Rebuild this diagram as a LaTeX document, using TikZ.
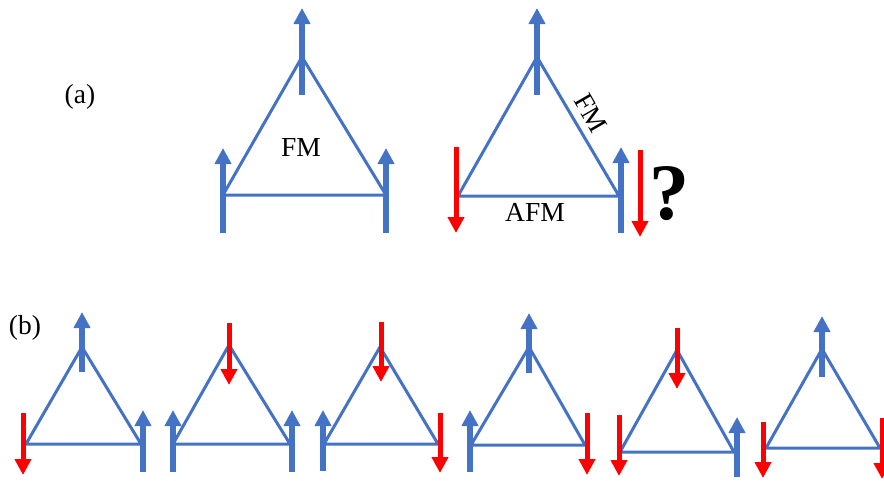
\documentclass[tikz,border=0pt]{standalone}
\usepackage{fontspec}
\setmainfont{Liberation Serif}
\usetikzlibrary{arrows.meta}
\definecolor{sblue}{HTML}{4472C4}
\definecolor{sred}{HTML}{FF0000}
\tikzset{
  edge/.style={draw=sblue,line width=3pt,line join=miter},
  bup/.style={draw=sblue,line width=6pt,-{Triangle[width=16pt 0 0,length=16pt 0 0,fill=sblue]}},
  rdn/.style={draw=sred,line width=5pt,-{Triangle[width=16pt 0 0,length=16pt 0 0,fill=sred]}},
  lab/.style={font=\fontsize{27.5}{32}\selectfont,inner sep=0pt}
}
\begin{document}
\begin{tikzpicture}[x=1pt,y=-1pt]
\path[use as bounding box] (0,0) rectangle (884,480);
\begin{scope}
\clip (0,0) rectangle (884,480);
% labels
\node[lab] (la) at (80,97) {(a)};
\node[lab] (lb) at (25,328) {(b)};
% top-left triangle
\coordinate (A1) at (302,57); \coordinate (B1) at (223,195); \coordinate (C1) at (386,195);
\draw[edge] (A1)--(B1)--(C1)--cycle;
\draw[bup] (302,95)--(302,8);
\draw[bup] (223,233)--(223,148);
\draw[bup] (386,233)--(386,148);
\node[lab] (fm1) at (301,147) {FM};
% top-right triangle
\coordinate (A2) at (537,57); \coordinate (B2) at (458,196); \coordinate (C2) at (619,196);
\draw[edge] (A2)--(B2)--(C2)--cycle;
\draw[bup] (537,95)--(537,8);
\draw[rdn] (456,147)--(456,233);
\draw[bup] (621,233)--(621,147);
\draw[rdn] (640,150)--(640,237);
\node[lab,rotate=-60] (fm2) at (591,113) {FM};
\node[lab] (afm) at (535,212) {AFM};
\node[font=\fontsize{80}{90}\selectfont\bfseries,inner sep=0pt] (q) at (669,194) {?};
% bottom row
% 1
\draw[edge] (82,347)--(26,444)--(141,444)--cycle;
\draw[bup] (82,372)--(82,312);
\draw[rdn] (23,413)--(23,475);
\draw[bup] (143,472)--(143,410);
% 2
\draw[edge] (229,345)--(173,444)--(290,444)--cycle;
\draw[rdn] (229,323)--(229,385);
\draw[bup] (173,472)--(173,410);
\draw[bup] (292,472)--(292,410);
% 3
\draw[edge] (380,347)--(324,444)--(438,444)--cycle;
\draw[rdn] (381,322)--(381,382);
\draw[bup] (323,471)--(323,410);
\draw[rdn] (440,413)--(440,473);
% 4
\draw[edge] (529,347)--(471,445)--(585,445)--cycle;
\draw[bup] (529,373)--(529,313);
\draw[bup] (470,472)--(470,410);
\draw[rdn] (587,413)--(587,475);
% 5
\draw[edge] (677,350)--(620,452)--(734,452)--cycle;
\draw[rdn] (677,328)--(677,389);
\draw[rdn] (619,415)--(619,476);
\draw[bup] (737,477)--(737,417);
% 6
\draw[edge] (822,349)--(766,448)--(880,448)--cycle;
\draw[bup] (822,377)--(822,316);
\draw[rdn] (763,422)--(763,478);
\draw[rdn] (882,418)--(882,479);
\end{scope}
\end{tikzpicture}
\end{document}
